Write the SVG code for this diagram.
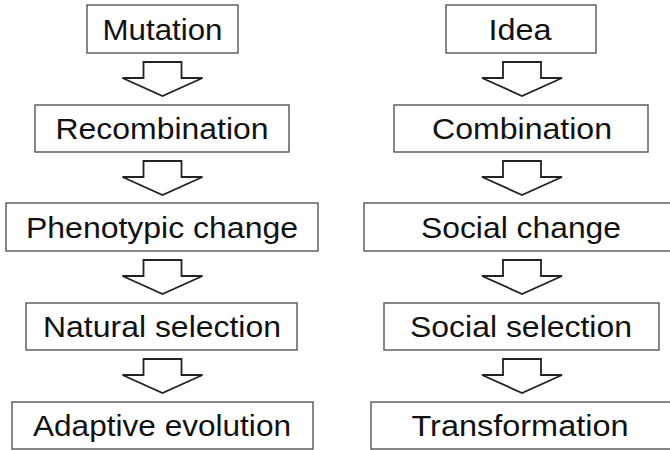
<svg xmlns="http://www.w3.org/2000/svg" width="670" height="450" viewBox="0 0 670 450">
<style>
.box{fill:#fff;stroke:#555;stroke-width:1.4}
.lbl{font-family:"Liberation Sans",Arial,sans-serif;font-size:29px;fill:#111;text-anchor:middle}
.arr{fill:#fff;stroke:#222;stroke-width:1.8;stroke-linejoin:miter}
</style>
<defs>
<path id="down" d="M-19,0 H19 V16 H40 L0,34 L-40,16 H-19 Z"/>
</defs>
<rect width="670" height="450" fill="#fff"/>
<g id="connectors">
<use href="#down" class="arr" x="162.5" y="62"/>
<use href="#down" class="arr" x="162.5" y="161"/>
<use href="#down" class="arr" x="162.5" y="260"/>
<use href="#down" class="arr" x="162.5" y="359"/>
<use href="#down" class="arr" x="522" y="62"/>
<use href="#down" class="arr" x="522" y="161"/>
<use href="#down" class="arr" x="522" y="260"/>
<use href="#down" class="arr" x="522" y="359"/>
</g>
<g id="mutation"><rect class="box" x="87" y="5" width="151" height="48"/><text class="lbl" x="162.5" y="40" textLength="120" lengthAdjust="spacingAndGlyphs">Mutation</text></g>
<g id="recombination"><rect class="box" x="35" y="105" width="254" height="47"/><text class="lbl" x="162" y="139" textLength="213" lengthAdjust="spacingAndGlyphs">Recombination</text></g>
<g id="phenotypic"><rect class="box" x="6" y="203" width="312" height="48"/><text class="lbl" x="162" y="238" textLength="272" lengthAdjust="spacingAndGlyphs">Phenotypic change</text></g>
<g id="natural"><rect class="box" x="26" y="303" width="271" height="47"/><text class="lbl" x="162" y="337" textLength="238" lengthAdjust="spacingAndGlyphs">Natural selection</text></g>
<g id="adaptive"><rect class="box" x="12" y="402" width="301" height="47"/><text class="lbl" x="162" y="436" textLength="258" lengthAdjust="spacingAndGlyphs">Adaptive evolution</text></g>
<g id="idea"><rect class="box" x="446" y="5" width="150" height="48"/><text class="lbl" x="520" y="40" textLength="63" lengthAdjust="spacingAndGlyphs">Idea</text></g>
<g id="combination"><rect class="box" x="394" y="105" width="254" height="47"/><text class="lbl" x="522" y="139" textLength="180" lengthAdjust="spacingAndGlyphs">Combination</text></g>
<g id="social-change"><rect class="box" x="364" y="203" width="310" height="48"/><text class="lbl" x="521" y="238" textLength="200" lengthAdjust="spacingAndGlyphs">Social change</text></g>
<g id="social-selection"><rect class="box" x="384" y="303" width="275" height="47"/><text class="lbl" x="521" y="337" textLength="222" lengthAdjust="spacingAndGlyphs">Social selection</text></g>
<g id="transformation"><rect class="box" x="371" y="402" width="305" height="47"/><text class="lbl" x="520" y="436" textLength="217" lengthAdjust="spacingAndGlyphs">Transformation</text></g>
</svg>
